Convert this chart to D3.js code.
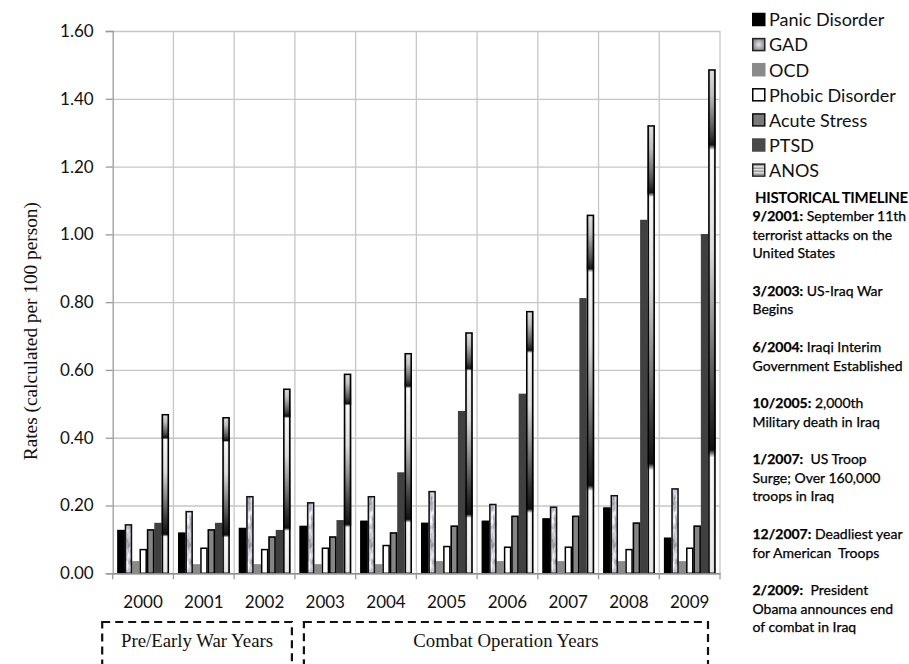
<!DOCTYPE html>
<html lang="en">
<head>
  <meta charset="UTF-8">
  <title>Anxiety Disorder Rates 2000-2009</title>
  <script src="https://d3js.org/d3.v7.min.js"></script>
  <style>
    body { margin: 0; background: #fff; }
    svg { display: block; }
    .sans { font-family: Lato, "Open Sans", Arial, sans-serif; }
    .serif { font-family: "Liberation Serif", "Times New Roman", serif; }
  </style>
</head>
<body>
<div id="chart"></div>
<script>
  // values (rates per 100 persons)
  const years = ["2000", "2001", "2002", "2003", "2004", "2005", "2006", "2007", "2008", "2009"];
  const panic  = [0.128, 0.120, 0.134, 0.140, 0.155, 0.149, 0.155, 0.162, 0.194, 0.105];
  const gad    = [0.145, 0.184, 0.228, 0.210, 0.228, 0.243, 0.205, 0.197, 0.231, 0.251];
  const ocd    = [0.036, 0.027, 0.027, 0.027, 0.027, 0.036, 0.036, 0.036, 0.036, 0.036];
  const phobic = [0.072, 0.076, 0.072, 0.076, 0.084, 0.081, 0.079, 0.079, 0.072, 0.076];
  const acute  = [0.130, 0.130, 0.109, 0.109, 0.121, 0.141, 0.170, 0.170, 0.150, 0.141];
  const ptsd   = [0.149, 0.149, 0.128, 0.157, 0.298, 0.479, 0.530, 0.812, 1.043, 1.001];
  const anos   = [0.470, 0.461, 0.545, 0.589, 0.650, 0.711, 0.774, 1.058, 1.322, 1.487];
  const yTicks = [0, 0.2, 0.4, 0.6, 0.8, 1.0, 1.2, 1.4, 1.6];

  const seriesNames = ["Panic Disorder", "GAD", "OCD", "Phobic Disorder", "Acute Stress", "PTSD", "ANOS"];
  const seriesValues = [panic, gad, ocd, phobic, acute, ptsd, anos];

  const eras = [
    { label: "Pre/Early War Years", from: "2000", to: "2002" },
    { label: "Combat Operation Years", from: "2003", to: "2009" }
  ];

  const timeline = [
    { date: "9/2001:", lines: ["September 11th", "terrorist attacks on the", "United States"] },
    { date: "3/2003:", lines: ["US-Iraq War", "Begins"] },
    { date: "6/2004:", lines: ["Iraqi Interim", "Government Established"] },
    { date: "10/2005:", lines: ["2,000th", "Military death in Iraq"] },
    { date: "1/2007:", lines: [" US Troop", "Surge; Over 160,000", "troops in Iraq"] },
    { date: "12/2007:", lines: ["Deadliest year", "for American  Troops"] },
    { date: "2/2009:", lines: [" President", "Obama announces end", "of combat in Iraq"] }
  ];

  const width = 909, height = 664;
  const plot = { left: 112.7, right: 720, top: 31, bottom: 573.3 };

  const svg = d3.select("#chart").append("svg").attr("width", width).attr("height", height);
  const defs = svg.append("defs");

  // mottled texture for GAD
  const marble = defs.append("filter").attr("id", "marble")
    .attr("x", 0).attr("y", 0).attr("width", 1).attr("height", 1)
    .attr("color-interpolation-filters", "sRGB");
  marble.append("feTurbulence").attr("type", "fractalNoise")
    .attr("baseFrequency", "0.3 0.1").attr("numOctaves", 3).attr("seed", 7).attr("result", "noise");
  marble.append("feColorMatrix").attr("in", "noise").attr("type", "matrix")
    .attr("values", "0.75 0 0 0 0.4  0.75 0 0 0 0.4  0.75 0 0 0 0.43  0 0 0 0 1").attr("result", "grey");
  marble.append("feComposite").attr("in", "grey").attr("in2", "SourceGraphic").attr("operator", "in");

  // banded gradient for ANOS
  const anosGrad = defs.append("linearGradient").attr("id", "anosGrad")
    .attr("x1", 0).attr("y1", 0).attr("x2", 0).attr("y2", 1);
  [[0, "#e6e6e6"], [0.05, "#c4c4c4"], [0.12, "#555"], [0.15, "#151515"], [0.16, "#ffffff"], [0.36, "#e2e2e2"],
   [0.52, "#8a8a8a"], [0.66, "#3a3a3a"], [0.755, "#111"], [0.77, "#ffffff"], [1, "#ececec"]]
    .forEach(s => anosGrad.append("stop").attr("offset", s[0]).attr("stop-color", s[1]));

  const cyl = defs.append("linearGradient").attr("id", "cyl")
    .attr("x1", 0).attr("y1", 0).attr("x2", 1).attr("y2", 0);
  [[0, 0.4], [0.3, 0.06], [0.5, 0], [0.7, 0.06], [1, 0.4]]
    .forEach(s => cyl.append("stop").attr("offset", s[0]).attr("stop-color", "#000").attr("stop-opacity", s[1]));

  // striped swatch for ANOS legend
  const stripes = defs.append("pattern").attr("id", "stripes")
    .attr("patternUnits", "userSpaceOnUse").attr("width", 4).attr("height", 3);
  stripes.append("rect").attr("width", 4).attr("height", 3).attr("fill", "#eee");
  stripes.append("rect").attr("width", 4).attr("height", 1.2).attr("fill", "#777");

  const gadSwatch = defs.append("radialGradient").attr("id", "gadSwatch");
  gadSwatch.append("stop").attr("offset", 0).attr("stop-color", "#e6e6ea");
  gadSwatch.append("stop").attr("offset", 1).attr("stop-color", "#8c8c90");

  const styles = [
    { fill: "#000", stroke: "#000" },
    { fill: "#ccc", filter: "url(#marble)", stroke: "#111" },
    { fill: "#8a8a8a", stroke: null },
    { fill: "#fff", stroke: "#000" },
    { fill: "#858585", stroke: "#000" },
    { fill: "#404040", stroke: null },
    { fill: "url(#anosGrad)", shade: true, stroke: "#000" }
  ];
  const swatches = [
    { fill: "#000", stroke: "#000" },
    { fill: "url(#gadSwatch)", stroke: "#222" },
    { fill: "#8a8a8a", stroke: "#8a8a8a" },
    { fill: "#fff", stroke: "#000" },
    { fill: "#7a7a7a", stroke: "#111" },
    { fill: "#4a4a4a", stroke: "#4a4a4a" },
    { fill: "url(#stripes)", stroke: "#222" }
  ];

  const x = d3.scaleBand().domain(years).range([plot.left, plot.right]);
  const inner = d3.scaleBand().domain(seriesNames).range([4.7, x.bandwidth() - 4.4]);
  const y = d3.scaleLinear().domain([0, 1.6]).range([plot.bottom, plot.top]);

  // horizontal gridlines
  svg.append("g")
    .attr("transform", `translate(${plot.left},0)`)
    .call(d3.axisLeft(y).tickValues(yTicks).tickSize(-(plot.right - plot.left)).tickFormat(""))
    .call(g => g.select(".domain").remove())
    .call(g => g.selectAll("line").attr("stroke", "#c6c6c6").attr("stroke-width", 1.3));

  // vertical gridlines at category edges
  const edges = years.map(d => x(d)).concat([x(years[years.length - 1]) + x.bandwidth()]);
  svg.append("g").selectAll("line").data(edges.slice(1)).join("line")
    .attr("x1", d => d).attr("x2", d => d)
    .attr("y1", y(1.6)).attr("y2", y(0))
    .attr("stroke", "#c6c6c6").attr("stroke-width", 1.3);

  // bars
  const groups = svg.append("g").selectAll("g").data(years).join("g")
    .attr("transform", d => `translate(${x(d)},0)`);

  const barData = i => seriesNames.map((s, k) => ({ s, k, v: seriesValues[k][i] }));

  groups.each(function (yr, i) {
    const g = d3.select(this);
    const data = barData(i);
    g.selectAll("rect.fill").data(data).join("rect").attr("class", "fill")
      .attr("x", d => inner(d.s)).attr("width", inner.bandwidth())
      .attr("y", d => y(d.v)).attr("height", d => y(0) - y(d.v))
      .attr("fill", d => styles[d.k].fill)
      .attr("filter", d => styles[d.k].filter || null);
    g.selectAll("rect.shade").data(data.filter(d => styles[d.k].shade)).join("rect").attr("class", "shade")
      .attr("x", d => inner(d.s)).attr("width", inner.bandwidth())
      .attr("y", d => y(d.v)).attr("height", d => y(0) - y(d.v))
      .attr("fill", "url(#cyl)");
    g.selectAll("rect.edge").data(data.filter(d => styles[d.k].stroke)).join("rect").attr("class", "edge")
      .attr("x", d => inner(d.s) + 0.7).attr("width", inner.bandwidth() - 1.4)
      .attr("y", d => y(d.v) + 0.7).attr("height", d => y(0) - y(d.v) - 0.7)
      .attr("fill", "none")
      .attr("stroke", d => styles[d.k].stroke).attr("stroke-width", 1.5);
  });

  // y axis
  svg.append("g")
    .attr("transform", `translate(${plot.left},0)`)
    .call(d3.axisLeft(y).tickValues(yTicks).tickSize(7).tickPadding(12).tickFormat(d3.format(".2f")))
    .call(g => g.select(".domain").attr("stroke", "#9a9a9a").attr("stroke-width", 1.3))
    .call(g => g.selectAll("line").attr("stroke", "#9a9a9a").attr("stroke-width", 1.3))
    .call(g => g.selectAll("text").attr("font-size", 17).attr("fill", "#111")
      .attr("font-family", "Lato, 'Open Sans', sans-serif"));

  // x axis
  const xAxis = svg.append("g").attr("transform", `translate(0,${plot.bottom})`);
  xAxis.call(d3.axisBottom(x).tickSize(0).tickPadding(23))
    .call(g => g.select(".domain").attr("stroke", "#8a8a8a").attr("stroke-width", 1.5))
    .call(g => g.selectAll("text").attr("font-size", 17).attr("fill", "#111")
      .attr("font-family", "Lato, 'Open Sans', sans-serif"));
  xAxis.append("g").selectAll("line").data(edges).join("line")
    .attr("x1", d => d).attr("x2", d => d).attr("y1", 0).attr("y2", 6)
    .attr("stroke", "#9a9a9a").attr("stroke-width", 1.3);

  // y axis title
  svg.append("text").attr("class", "serif")
    .attr("transform", `translate(37,${(y(1.6) + y(0)) / 2 + 29}) rotate(-90)`)
    .attr("text-anchor", "middle").attr("font-size", 19.3).attr("fill", "#111")
    .text("Rates (calculated per 100 person)");

  // era boxes
  const eraBox = e => {
    const x0 = x(e.from), x1 = x(e.to) + x.bandwidth();
    return e.from === years[0] ? [x0 - 10.5, x1 - 3] : [x0 + 9, x1 - 12];
  };
  const eraG = svg.append("g").selectAll("g").data(eras).join("g");
  eraG.append("rect")
    .attr("x", d => eraBox(d)[0]).attr("width", d => eraBox(d)[1] - eraBox(d)[0])
    .attr("y", 622).attr("height", 80)
    .attr("fill", "none").attr("stroke", "#111").attr("stroke-width", 2.2)
    .attr("stroke-dasharray", "8,5");
  eraG.append("text").attr("class", "serif")
    .attr("x", d => (eraBox(d)[0] + eraBox(d)[1]) / 2).attr("y", 647)
    .attr("text-anchor", "middle").attr("font-size", 18.8).attr("fill", "#111")
    .text(d => d.label);

  // legend
  const legend = svg.append("g").attr("transform", "translate(752,0)");
  const items = legend.selectAll("g").data(seriesNames).join("g")
    .attr("transform", (d, i) => `translate(0,${20 + i * 25.1})`);
  items.append("rect")
    .attr("x", 0.75).attr("y", -6.5).attr("width", 12).attr("height", 12)
    .attr("fill", (d, i) => swatches[i].fill)
    .attr("stroke", (d, i) => swatches[i].stroke).attr("stroke-width", 1.5);
  items.append("text").attr("class", "sans")
    .attr("x", 17).attr("y", 0).attr("dy", "0.35em")
    .attr("font-size", 18).attr("fill", "#111")
    .text(d => d);

  // historical timeline
  const tl = svg.append("g").attr("class", "sans").attr("fill", "#000");
  tl.append("text").attr("x", 755).attr("y", 198).attr("dy", "0.35em")
    .attr("font-size", 15).attr("font-weight", "bold").attr("letter-spacing", -0.3)
    .text("HISTORICAL TIMELINE");
  const lineH = 18.7;
  let row = 0;
  timeline.forEach(item => {
    item.lines.forEach((ln, j) => {
      const t = tl.append("text").attr("x", 752.5).attr("y", 216 + row * lineH)
        .attr("dy", "0.35em").attr("font-size", 14).attr("xml:space", "preserve")
        .attr("stroke", "#000").attr("stroke-width", 0.25);
      if (j === 0) {
        t.append("tspan").attr("font-weight", "bold").text(item.date);
        t.append("tspan").text(" " + ln);
      } else {
        t.text(ln);
      }
      row++;
    });
    row++;
  });
</script>
</body>
</html>
